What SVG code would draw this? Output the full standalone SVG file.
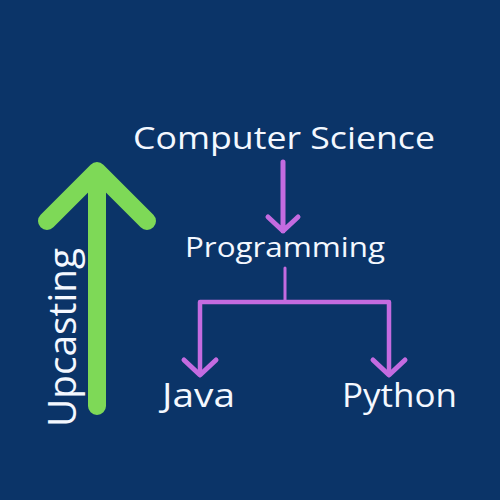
<svg xmlns="http://www.w3.org/2000/svg" width="500" height="500" viewBox="0 0 500 500">
<style>
.lbl{font-family:"Open Sans","Liberation Sans",sans-serif;fill:#f4f8ff}
.pl{stroke:#c46be0;fill:none;stroke-linecap:round;stroke-linejoin:round}
.gr{stroke:#7ed957;fill:none;stroke-width:18;stroke-linecap:round;stroke-linejoin:round}
</style>
<rect width="500" height="500" fill="#0b3468"/>
<g id="upcasting">
<path class="gr" d="M97,406 V172 M47,221 L97,171 L147,221"/>
<text class="lbl" transform="translate(76,427) rotate(-90)" font-size="38" textLength="179" lengthAdjust="spacingAndGlyphs">Upcasting</text>
</g>
<g id="connectors">
<path class="pl" stroke-width="5" d="M283,162 V231 M268,217 L283,231 L298,217"/>
<path class="pl" stroke-width="3" d="M285,268 V300"/>
<path class="pl" stroke-width="4.5" d="M200,374 V302 H389 V374"/>
<path class="pl" stroke-width="5" d="M184,360 L200,375 L216,360 M373,360 L389,375 L405,360"/>
</g>
<g id="cs"><text class="lbl" x="133" y="149" font-size="31" textLength="302" lengthAdjust="spacingAndGlyphs">Computer Science</text></g>
<g id="programming"><text class="lbl" x="185" y="257" font-size="28" textLength="200" lengthAdjust="spacingAndGlyphs">Programming</text></g>
<g id="java"><text class="lbl" x="162" y="407" font-size="33" textLength="73" lengthAdjust="spacingAndGlyphs">Java</text></g>
<g id="python"><text class="lbl" x="342" y="407" font-size="33" textLength="115" lengthAdjust="spacingAndGlyphs">Python</text></g>
</svg>
